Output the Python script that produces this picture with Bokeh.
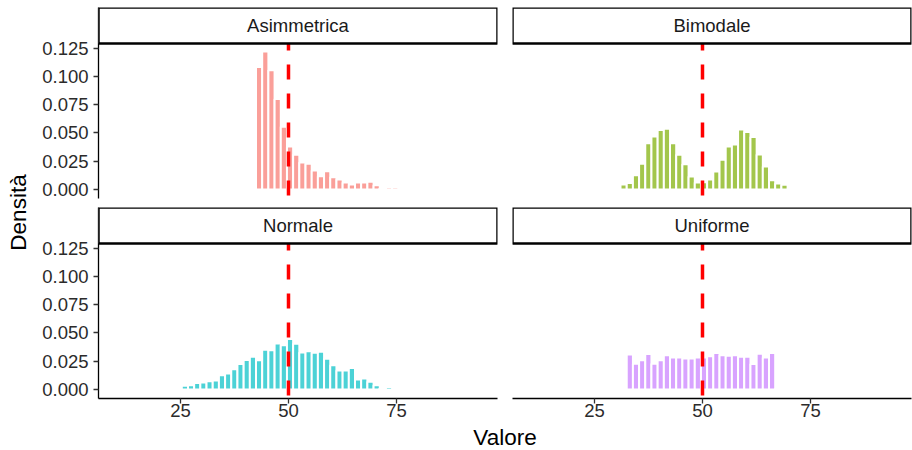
from bokeh.plotting import figure
from bokeh.layouts import row, column
from bokeh.models import (BoxAnnotation, Label, FixedTicker, PrintfTickFormatter,
                          LinearAxis, Range1d, ColumnDataSource)
from bokeh.embed import file_html
from bokeh.resources import INLINE
import math

# ---------------- data ----------------
BIN_CENTERS = [24.58, 26.02, 27.45, 28.88, 30.31, 31.74, 33.18, 34.61, 36.04, 37.47,
               38.90, 40.34, 41.77, 43.20, 44.63, 46.06, 47.50, 48.93, 50.36, 51.79,
               53.22, 54.66, 56.09, 57.52, 58.95, 60.38, 61.82, 63.25, 64.68, 66.11,
               67.54, 68.98, 70.41, 71.84, 73.27, 74.70, 76.14, 77.57, 79.00]
BIN_WIDTH = 1.432

ASIMMETRICA = [0.1082, 0.1219, 0.1053, 0.0800, 0.0555, 0.0380, 0.0308, 0.0240, 0.0229,
               0.0168, 0.0118, 0.0162, 0.0109, 0.0089, 0.0063, 0.0045, 0.0063, 0.0063,
               0.0068, 0.0039, 0.0012, 0.0020, 0.0020, 0.0, 0.0, 0.0015]
BIMODALE = [0.0045, 0.0057, 0.0127, 0.0229, 0.0409, 0.0468, 0.0526, 0.0538, 0.0409,
            0.0308, 0.0223, 0.0115, 0.0063, 0.0065, 0.0089, 0.0159, 0.0264, 0.0380,
            0.0398, 0.0531, 0.0509, 0.0465, 0.0310, 0.0203, 0.0083, 0.0054, 0.0042]
NORMALE = [0.0012, 0.0033, 0.0039, 0.0057, 0.0063, 0.0074, 0.0080, 0.0127, 0.0142,
           0.0179, 0.0226, 0.0260, 0.0290, 0.0258, 0.0351, 0.0348, 0.0406, 0.0392,
           0.0446, 0.0404, 0.0328, 0.0339, 0.0325, 0.0334, 0.0273, 0.0214, 0.0168,
           0.0168, 0.0191, 0.0089, 0.0098, 0.0068, 0.0039, 0.0012, 0.0022]
UNIFORME = [0.0310, 0.0229, 0.0258, 0.0313, 0.0229, 0.0258, 0.0304, 0.0284, 0.0284,
            0.0275, 0.0275, 0.0284, 0.0284, 0.0295, 0.0322, 0.0302, 0.0299, 0.0304,
            0.0290, 0.0290, 0.0226, 0.0316, 0.0284, 0.0322, 0.0008]

PANEL_NAMES = ["Asimmetrica", "Bimodale", "Normale", "Uniforme"]
PANEL_VALUES = [ASIMMETRICA, BIMODALE, NORMALE, UNIFORME]
FIRST_BIN = [13, 5, 0, 6]
COLORS = ["#F8766D", "#7CAE00", "#00BFC4", "#C77CFF"]
MEAN_LINE = 50
Y_TICKS = [0.0, 0.025, 0.05, 0.075, 0.1, 0.125]
X_TICKS = [25, 50, 75]
X_TITLE = "Valore"
Y_TITLE = "Densità"

# ---------------- layout / style ----------------
X_START, X_END = 6.02, 98.38
Y_START, Y_PANEL_TOP, Y_END = -0.0079, 0.129, 0.1608
FONT = "Liberation Sans"
FRAME_W, FRAME_H = 399, 191
TICK_FONT = "18.5px"
TITLE_FONT = "22.5px"


def style_axis(ax):
    ax.axis_line_color = "black"
    ax.axis_line_width = 1.3
    ax.major_tick_line_color = "#333333"
    ax.major_tick_line_width = 1.3
    ax.major_tick_out = 5
    ax.major_tick_in = 0
    ax.minor_tick_out = 0
    ax.minor_tick_in = 0
    ax.major_label_text_font = FONT
    ax.major_label_text_font_size = TICK_FONT
    ax.major_label_text_color = "#2b2b2b"


def make_panel(i, left_axis, bottom_axis, mb_left, mb_right, mb_bottom):
    p = figure(frame_width=FRAME_W, frame_height=FRAME_H,
               x_range=Range1d(X_START, X_END), y_range=Range1d(Y_START, Y_END),
               output_backend="svg", toolbar_location=None,
               x_axis_location=None, y_axis_location=None,
               min_border_left=mb_left, min_border_right=mb_right,
               min_border_top=7, min_border_bottom=mb_bottom,
               outline_line_color=None,
               background_fill_color="white", border_fill_color="white")
    p.xgrid.visible = False
    p.ygrid.visible = False

    vals = PANEL_VALUES[i]
    xs = BIN_CENTERS[FIRST_BIN[i]:FIRST_BIN[i] + len(vals)]
    src = ColumnDataSource(dict(x=xs, top=vals))
    p.vbar(x="x", top="top", bottom=0, width=BIN_WIDTH, source=src,
           fill_color=COLORS[i], fill_alpha=0.7,
           line_color="white", line_width=2)

    p.segment(x0=[MEAN_LINE], y0=[Y_START], x1=[MEAN_LINE], y1=[Y_PANEL_TOP],
              line_color="#FF0000", line_width=3.5, line_dash="15 14",
              line_dash_offset=26)

    if left_axis:
        ax = LinearAxis(ticker=FixedTicker(ticks=Y_TICKS),
                        formatter=PrintfTickFormatter(format="%.3f"),
                        major_label_standoff=5)
        style_axis(ax)
        p.add_layout(ax, "left")
    if bottom_axis:
        ax = LinearAxis(ticker=FixedTicker(ticks=X_TICKS), major_label_standoff=0)
        style_axis(ax)
        p.add_layout(ax, "below")

    strip = BoxAnnotation(left=X_START, right=X_END, bottom=Y_PANEL_TOP, top=Y_END,
                          fill_color="white", fill_alpha=1.0,
                          line_color="black", line_alpha=1.0, line_width=2.5)
    p.add_layout(strip)
    p.add_layout(Label(x=(X_START + X_END) / 2, y=(Y_PANEL_TOP + Y_END) / 2,
                       text=PANEL_NAMES[i], text_align="center",
                       text_baseline="middle", text_font=FONT,
                       text_font_size=TICK_FONT, text_color="#1A1A1A"))
    return p


tl = make_panel(0, True, False, 68, 7, 2)
tr = make_panel(1, False, False, 8, 1, 2)
bl = make_panel(2, True, True, 68, 7, 25)
br = make_panel(3, False, True, 8, 1, 25)

ylab = figure(width=30, height=450, x_range=Range1d(0, 30), y_range=Range1d(0, 450),
              output_backend="svg", toolbar_location=None,
              x_axis_location=None, y_axis_location=None, min_border=0,
              outline_line_color=None, border_fill_color="white")
ylab.xgrid.visible = False
ylab.ygrid.visible = False
ylab.add_layout(Label(x=18, y=450 - 212, text=Y_TITLE, angle=math.pi / 2,
                      text_align="center", text_baseline="middle",
                      text_font=FONT, text_font_size=TITLE_FONT, text_color="black"))

xlab = figure(width=882, height=27, x_range=Range1d(0, 882), y_range=Range1d(0, 27),
              output_backend="svg", toolbar_location=None,
              x_axis_location=None, y_axis_location=None, min_border=0,
              outline_line_color=None, border_fill_color="white")
xlab.xgrid.visible = False
xlab.ygrid.visible = False
xlab.add_layout(Label(x=474.5, y=13.5, text=X_TITLE,
                      text_align="center", text_baseline="middle",
                      text_font=FONT, text_font_size=TITLE_FONT, text_color="black"))

layout = row(ylab, column(row(tl, tr), row(bl, br), xlab))

open("out.html", "w").write(file_html(layout, INLINE))
